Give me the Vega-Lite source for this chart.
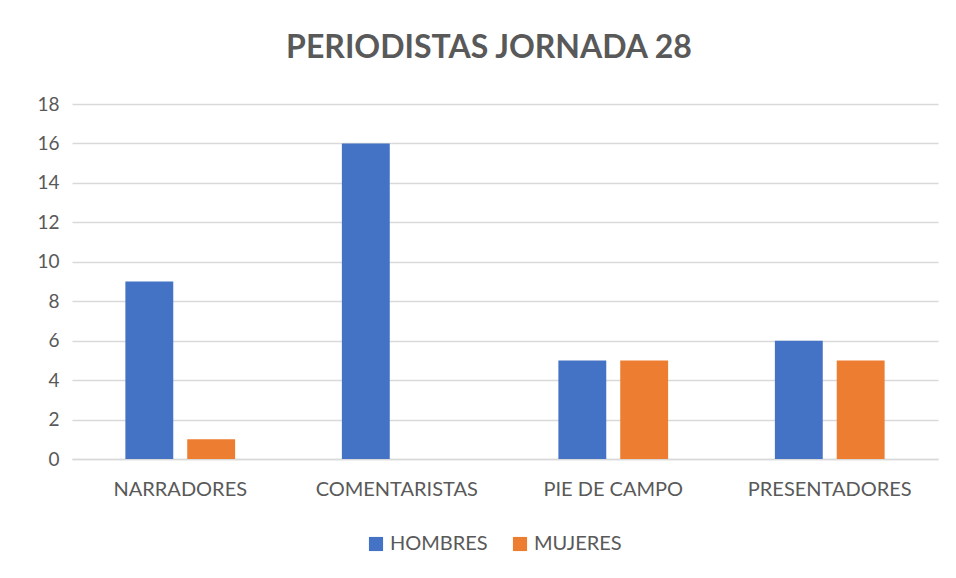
{
  "$schema": "https://vega.github.io/schema/vega-lite/v6.json",
  "width": 866,
  "height": 355,
  "autosize": {"type": "none"},
  "padding": {"left": 72, "top": 104, "right": 18, "bottom": 119},
  "background": "white",
  "title": {
    "text": "PERIODISTAS JORNADA 28",
    "font": "Lato",
    "fontSize": 32,
    "fontWeight": "bold",
    "color": "#595959",
    "anchor": "middle",
    "offset": 30,
    "dx": -16
  },
  "data": {
    "values": [
      {"categoria": "NARRADORES", "genero": "HOMBRES", "valor": 9},
      {"categoria": "NARRADORES", "genero": "MUJERES", "valor": 1},
      {"categoria": "COMENTARISTAS", "genero": "HOMBRES", "valor": 16},
      {"categoria": "COMENTARISTAS", "genero": "MUJERES", "valor": 0},
      {"categoria": "PIE DE CAMPO", "genero": "HOMBRES", "valor": 5},
      {"categoria": "PIE DE CAMPO", "genero": "MUJERES", "valor": 5},
      {"categoria": "PRESENTADORES", "genero": "HOMBRES", "valor": 6},
      {"categoria": "PRESENTADORES", "genero": "MUJERES", "valor": 5}
    ]
  },
  "mark": {"type": "bar"},
  "encoding": {
    "x": {
      "field": "categoria",
      "type": "nominal",
      "sort": null,
      "scale": {"paddingInner": 0, "paddingOuter": 0},
      "axis": {
        "title": null,
        "labelAngle": 0,
        "labelFont": "Lato",
        "labelFontSize": 20,
        "labelColor": "#595959",
        "labelPadding": 20,
        "ticks": false,
        "domainColor": "#d9d9d9",
        "domainWidth": 1.5
      }
    },
    "xOffset": {
      "field": "genero",
      "type": "nominal",
      "scale": {"paddingInner": 0.226, "paddingOuter": 0.863}
    },
    "y": {
      "field": "valor",
      "type": "quantitative",
      "scale": {"domain": [0, 18], "nice": false},
      "axis": {
        "title": null,
        "values": [0, 2, 4, 6, 8, 10, 12, 14, 16, 18],
        "labelFont": "Lato",
        "labelFontSize": 19,
        "labelColor": "#595959",
        "labelPadding": 13,
        "ticks": false,
        "domain": false,
        "gridColor": "#d9d9d9",
        "gridWidth": 1.5
      }
    },
    "color": {
      "field": "genero",
      "type": "nominal",
      "scale": {"domain": ["HOMBRES", "MUJERES"], "range": ["#4472C4", "#ED7D31"]},
      "legend": {
        "title": null,
        "orient": "none",
        "direction": "horizontal",
        "legendX": 294,
        "legendY": 430,
        "symbolType": "square",
        "symbolSize": 200,
        "labelFont": "Lato",
        "labelFontSize": 20,
        "labelColor": "#595959",
        "columnPadding": 22,
        "labelOffset": 4
      }
    }
  },
  "config": {
    "view": {"stroke": null}
  }
}
